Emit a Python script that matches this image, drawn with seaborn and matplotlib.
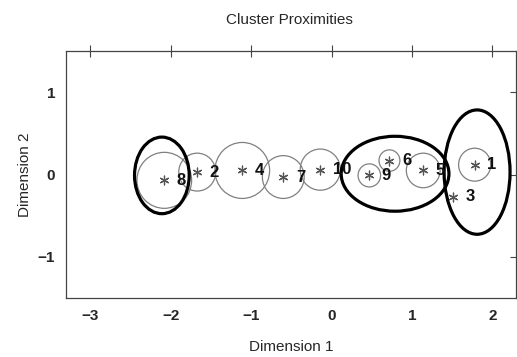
"""
Cluster Proximities - ban do khoang cach giua cac cum (2 chieu)
"""

import matplotlib
matplotlib.use('Agg')
import matplotlib.pyplot as plt
from matplotlib.patches import Circle, Ellipse
import seaborn as sns
import pandas as pd

sns.set_style("white")
plt.rcParams['font.family'] = ['Liberation Sans', 'DejaVu Sans']

# Du lieu doc tu hinh
clusters = ['1', '2', '3', '4', '5', '6', '7', '8', '9', '10']
dim1 = [1.78, -1.67, 1.51, -1.11, 1.14, 0.72, -0.60, -2.08, 0.47, -0.14]
dim2 = [0.12, 0.03, -0.27, 0.05, 0.05, 0.17, -0.03, -0.07, -0.01, 0.06]
radius = [0.20, 0.23, 0.0, 0.34, 0.21, 0.13, 0.26, 0.34, 0.14, 0.25]

# Cac nhom cum (hinh elip)
group_x = [-2.11, 0.79, 1.81]
group_y = [-0.01, 0.01, 0.03]
group_w = [0.68, 1.34, 0.82]
group_h = [0.93, 0.91, 1.51]

x_ticks = [-3, -2, -1, 0, 1, 2]
y_ticks = [-1, 0, 1]

df = pd.DataFrame({'cluster': clusters, 'dim1': dim1, 'dim2': dim2, 'radius': radius})

fig = plt.figure(figsize=(5.17, 3.57), dpi=100)
ax = fig.add_axes([0.128, 0.165, 0.871, 0.692])

# Vong tron kich thuoc cum
for _, row in df.iterrows():
    if row['radius'] > 0:
        ax.add_patch(Circle((row['dim1'], row['dim2']), row['radius'],
                            fill=False, edgecolor='#808080', linewidth=0.9))

# Elip nhom
for gx, gy, gw, gh in zip(group_x, group_y, group_w, group_h):
    ax.add_patch(Ellipse((gx, gy), gw, gh, fill=False,
                         edgecolor='black', linewidth=2.3))

# Tam cum
sns.scatterplot(data=df, x='dim1', y='dim2', ax=ax, marker=(6, 2, 0),
                s=40, color='#555555', linewidth=0.9, legend=False)

for _, row in df.iterrows():
    ax.annotate(row['cluster'], (row['dim1'], row['dim2']),
                xytext=(9, 0), textcoords='offset points',
                ha='left', va='center', fontsize=12, fontweight='bold',
                color='#111111')

ax.set_xlim(-3.3, 2.3)
ax.set_ylim(-1.5, 1.5)
ax.set_xticks(x_ticks)
ax.set_yticks(y_ticks)
ax.set_xticklabels(['\u2212' + str(abs(t)) if t < 0 else str(t) for t in x_ticks],
                   fontweight='bold')
ax.set_yticklabels(['\u2212' + str(abs(t)) if t < 0 else str(t) for t in y_ticks],
                   fontweight='bold')
ax.tick_params(direction='inout', length=8, width=0.8, color='#444444',
               top=True, right=True, labelsize=11, pad=4)

for side in ['left', 'bottom', 'top', 'right']:
    ax.spines[side].set_color('#444444')
    ax.spines[side].set_linewidth(0.9)

ax.set_xlabel('Dimension 1', fontsize=11, labelpad=12)
ax.set_ylabel('Dimension 2', fontsize=11, labelpad=4)
fig.text(0.56, 0.945, 'Cluster Proximities', ha='center', va='center', fontsize=11)

plt.savefig('out.png', dpi=100)
plt.close()
